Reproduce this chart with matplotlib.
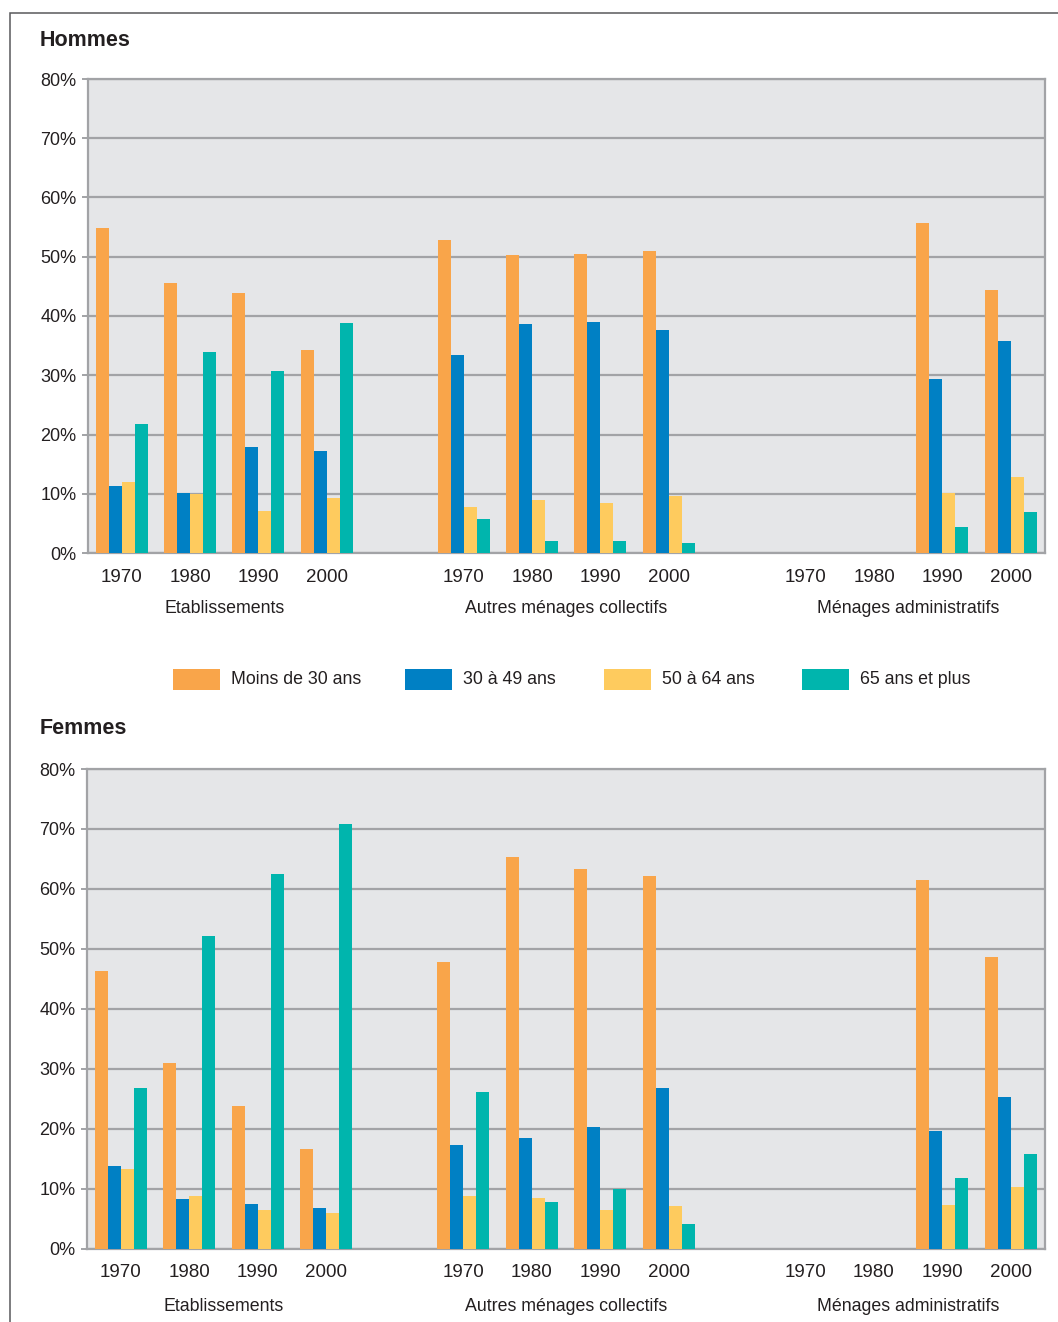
import numpy as np
import matplotlib
matplotlib.use("Agg")
import matplotlib.pyplot as plt
from matplotlib.patches import Rectangle

nan = np.nan

years = ["1970", "1980", "1990", "2000"]
categories = ["Etablissements", "Autres ménages collectifs", "Ménages administratifs"]
series = ["Moins de 30 ans", "30 à 49 ans", "50 à 64 ans", "65 ans et plus"]
colors = ["#F9A54A", "#0080C4", "#FECB5E", "#00B5AD"]

# values in %, order: Etablissements 1970..2000, Autres 1970..2000, Administratifs 1970..2000
hommes_moins30 = [54.8, 45.6, 43.9, 34.3, 52.8, 50.3, 50.5, 51.0, nan, nan, 55.7, 44.4]
hommes_30_49 = [11.3, 10.1, 17.9, 17.2, 33.4, 38.6, 39.0, 37.6, nan, nan, 29.4, 35.8]
hommes_50_64 = [12.0, 10.0, 7.1, 9.3, 7.8, 8.9, 8.4, 9.6, nan, nan, 10.1, 12.8]
hommes_65plus = [21.8, 33.9, 30.7, 38.8, 5.7, 2.0, 2.0, 1.7, nan, nan, 4.4, 6.9]

femmes_moins30 = [46.3, 31.0, 23.8, 16.6, 47.8, 65.3, 63.3, 62.1, nan, nan, 61.4, 48.7]
femmes_30_49 = [13.8, 8.3, 7.4, 6.8, 17.3, 18.4, 20.3, 26.8, nan, nan, 19.6, 25.2]
femmes_50_64 = [13.3, 8.8, 6.4, 5.9, 8.8, 8.4, 6.4, 7.1, nan, nan, 7.2, 10.2]
femmes_65plus = [26.8, 52.1, 62.4, 70.8, 26.1, 7.8, 9.9, 4.1, nan, nan, 11.7, 15.7]

yticks = [0, 10, 20, 30, 40, 50, 60, 70, 80]

plt.rcParams["font.family"] = ["Liberation Sans", "DejaVu Sans"]

TEXT = "#231F20"
GRID = "#A2A3A6"
BG = "#E5E6E8"
FS_NUM = 13.5
FS_TXT = 12.8

W, H = 1058, 1322
fig = plt.figure(figsize=(W / 100, H / 100), dpi=100)


def fx(px):
    return px / W


def fy(py):
    return 1 - py / H


# group positions: four years per category, one empty slot between categories
positions = []
for c in range(len(categories)):
    for y in range(len(years)):
        positions.append(c * 5 + y)
positions = np.array(positions, dtype=float)
bar_w = 0.19


def draw_panel(ax, data, year_off, cat_off):
    ax.set_facecolor(BG)
    for i, vals in enumerate(data):
        ax.bar(positions + (i - 1.5) * bar_w, vals, width=bar_w,
               color=colors[i], linewidth=0, zorder=3)
    ax.set_xlim(-0.5, 13.5)
    ax.set_ylim(0, 80)
    ax.set_yticks(yticks)
    ax.set_yticklabels([f"{v}%" for v in yticks])
    ax.yaxis.grid(True, color=GRID, linewidth=1.6, zorder=1)
    ax.set_axisbelow(True)
    ax.set_xticks([])
    ax.tick_params(axis="y", length=4, width=1.4, color=GRID, pad=4,
                   labelsize=13, labelcolor=TEXT)
    for s in ax.spines.values():
        s.set_color(GRID)
        s.set_linewidth(1.6)
    for p, lab in zip(positions, years * 3):
        ax.annotate(lab, xy=(p, 0), xycoords=("data", "axes fraction"),
                    xytext=(0, -year_off), textcoords="offset points",
                    ha="center", va="center", fontsize=FS_NUM, color=TEXT)
    for c, cat in enumerate(categories):
        ax.annotate(cat, xy=(c * 5 + 1.5, 0), xycoords=("data", "axes fraction"),
                    xytext=(0, -cat_off), textcoords="offset points",
                    ha="center", va="center", fontsize=FS_TXT, color=TEXT)


ax1 = fig.add_axes([fx(87.5), fy(553), fx(1045) - fx(87.5), fy(79) - fy(553)])
draw_panel(ax1, [hommes_moins30, hommes_30_49, hommes_50_64, hommes_65plus], 18, 40)

ax2 = fig.add_axes([fx(86.7), fy(1248.5), fx(1045) - fx(86.7), fy(769) - fy(1248.5)])
draw_panel(ax2, [femmes_moins30, femmes_30_49, femmes_50_64, femmes_65plus], 17, 41.5)

fig.text(fx(40), fy(40), "Hommes", fontsize=15.5, fontweight="bold",
         color=TEXT, ha="left", va="center")
fig.text(fx(40), fy(729), "Femmes", fontsize=15.5, fontweight="bold",
         color=TEXT, ha="left", va="center")

# legend row
leg_x = [173, 405, 604, 802]
for x0, lab, col in zip(leg_x, series, colors):
    fig.add_artist(Rectangle((fx(x0), fy(690)), fx(47), 21 / H,
                             transform=fig.transFigure, facecolor=col,
                             edgecolor="none"))
    fig.text(fx(x0 + 58), fy(680), lab, fontsize=FS_TXT, color=TEXT,
             ha="left", va="center")

# outer frame
fig.add_artist(Rectangle((fx(10), -0.1), 1.2, fy(13) + 0.1,
                         transform=fig.transFigure, fill=False,
                         edgecolor="#58595B", linewidth=1.1))

fig.savefig("out.png", dpi=100, facecolor="white")
